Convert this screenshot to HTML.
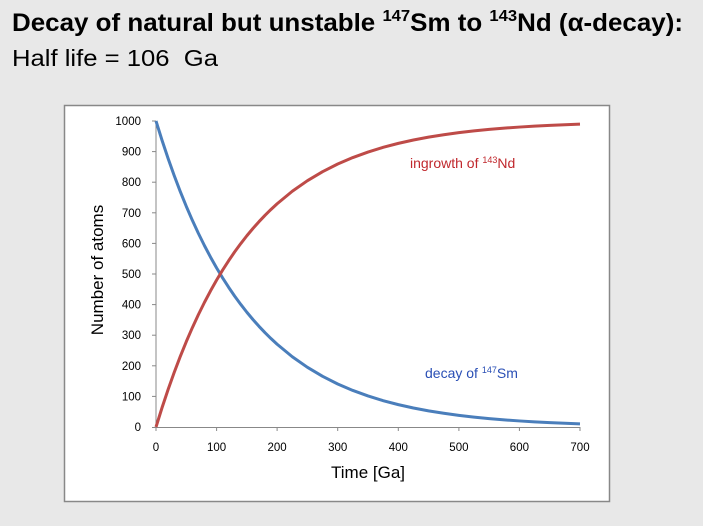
<!DOCTYPE html>
<html><head><style>
body{margin:0;width:703px;height:526px;background:#e8e8e8;font-family:"Liberation Sans",sans-serif;overflow:hidden;position:relative}
</style></head><body>
<svg width="703" height="526" style="position:absolute;left:0;top:0" font-family="Liberation Sans, sans-serif">
<text x="12" y="31" font-size="25" font-weight="bold" textLength="671" lengthAdjust="spacingAndGlyphs">Decay of natural but unstable <tspan font-size="16" dy="-10">147</tspan><tspan dy="10">Sm to </tspan><tspan font-size="16" dy="-10">143</tspan><tspan dy="10">Nd (α-decay):</tspan></text>
<text x="12" y="66" font-size="23" textLength="206" lengthAdjust="spacingAndGlyphs">Half life = 106&#160; Ga</text>
<rect x="64.5" y="105.5" width="545" height="396" fill="#fff" stroke="#888" stroke-width="1.5"/>
<g stroke="#888" stroke-width="1">
<line x1="156" y1="121" x2="156" y2="427"/>
<line x1="152" y1="427.5" x2="580" y2="427.5"/>
<line x1="152" y1="121" x2="156" y2="121"/><line x1="152" y1="151.6" x2="156" y2="151.6"/><line x1="152" y1="182.2" x2="156" y2="182.2"/><line x1="152" y1="212.8" x2="156" y2="212.8"/><line x1="152" y1="243.4" x2="156" y2="243.4"/><line x1="152" y1="274" x2="156" y2="274"/><line x1="152" y1="304.6" x2="156" y2="304.6"/><line x1="152" y1="335.2" x2="156" y2="335.2"/><line x1="152" y1="365.8" x2="156" y2="365.8"/><line x1="152" y1="396.4" x2="156" y2="396.4"/>
<line x1="156" y1="427" x2="156" y2="431"/><line x1="216.6" y1="427" x2="216.6" y2="431"/><line x1="277.1" y1="427" x2="277.1" y2="431"/><line x1="337.7" y1="427" x2="337.7" y2="431"/><line x1="398.3" y1="427" x2="398.3" y2="431"/><line x1="458.9" y1="427" x2="458.9" y2="431"/><line x1="519.4" y1="427" x2="519.4" y2="431"/><line x1="580" y1="427" x2="580" y2="431"/>
</g>
<g font-size="11.5" fill="#000" text-anchor="end">
<text x="141" y="125">1000</text><text x="141" y="155.6">900</text><text x="141" y="186.2">800</text><text x="141" y="216.8">700</text><text x="141" y="247.4">600</text><text x="141" y="278">500</text><text x="141" y="308.6">400</text><text x="141" y="339.2">300</text><text x="141" y="369.8">200</text><text x="141" y="400.4">100</text><text x="141" y="431">0</text>
</g>
<g font-size="11.5" fill="#000" text-anchor="middle">
<text x="156" y="451">0</text><text x="216.6" y="451">100</text><text x="277.1" y="451">200</text><text x="337.7" y="451">300</text><text x="398.3" y="451">400</text><text x="458.9" y="451">500</text><text x="519.4" y="451">600</text><text x="580" y="451">700</text>
</g>
<text x="368" y="478" font-size="17" text-anchor="middle">Time [Ga]</text>
<text transform="translate(103,270) rotate(-90)" font-size="17" text-anchor="middle">Number of atoms</text>
<g transform="translate(156,427) scale(0.60571,-0.306)" fill="none">
<polyline vector-effect="non-scaling-stroke" stroke="#4a7ebb" stroke-width="3" stroke-linejoin="round" points="0,1000 10,936.7 20,877.4 30,821.9 40,769.9 50,721.1 60,675.5 70,632.7 80,592.7 90,555.2 100,520 110,487.1 120,456.3 130,427.4 140,400.4 150,375 160,351.3 170,329.1 180,308.2 190,288.7 200,270.4 225,229.6 250,195 275,165.6 300,140.6 325,119.4 350,101.4 375,86.1 400,73.1 425,62.1 450,52.7 475,44.8 500,38 525,32.3 550,27.4 575,23.3 600,19.8 625,16.8 650,14.3 675,12.1 700,10.3"/>
<polyline vector-effect="non-scaling-stroke" stroke="#be4b48" stroke-width="3" stroke-linejoin="round" points="0,0 10,63.3 20,122.6 30,178.1 40,230.1 50,278.9 60,324.5 70,367.3 80,407.3 90,444.8 100,480 110,512.9 120,543.7 130,572.6 140,599.6 150,625 160,648.7 170,670.9 180,691.8 190,711.3 200,729.6 225,770.4 250,805 275,834.4 300,859.4 325,880.6 350,898.6 375,913.9 400,926.9 425,937.9 450,947.3 475,955.2 500,962 525,967.7 550,972.6 575,976.7 600,980.2 625,983.2 650,985.7 675,987.9 700,989.7"/>
</g>
<text x="410" y="168" font-size="14" fill="#c0282d">ingrowth of <tspan font-size="9" dy="-5">143</tspan><tspan dy="5">Nd</tspan></text>
<text x="425" y="378" font-size="14" fill="#2a4fb5">decay of <tspan font-size="9" dy="-5">147</tspan><tspan dy="5">Sm</tspan></text>
</svg>
</body></html>
